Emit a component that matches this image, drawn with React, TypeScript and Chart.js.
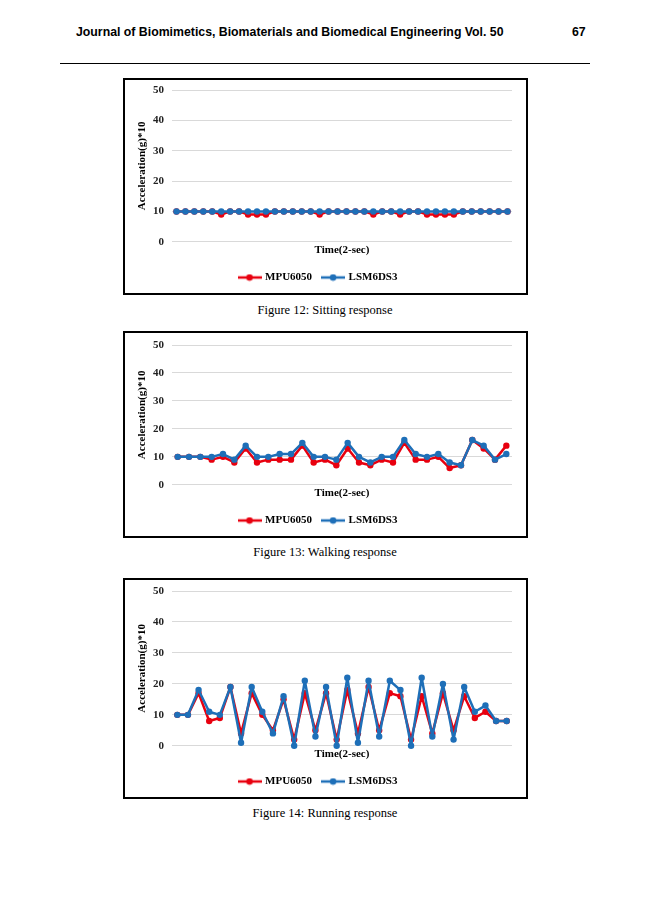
import React, { useEffect, useRef } from 'react';
import { Chart, registerables } from 'chart.js';

Chart.register(...registerables);

// ---- Data ----
const sittingMPU6050 = [10, 10, 10, 10, 10, 9, 10, 10, 9, 9, 9, 10, 10, 10, 10, 10, 9, 10, 10, 10, 10, 10, 9, 10, 10, 9, 10, 10, 9, 9, 9, 9, 10, 10, 10, 10, 10, 10];
const sittingLSM6DS3 = [10, 10, 10, 10, 10, 10, 10, 10, 10, 10, 10, 10, 10, 10, 10, 10, 10, 10, 10, 10, 10, 10, 10, 10, 10, 10, 10, 10, 10, 10, 10, 10, 10, 10, 10, 10, 10, 10];

const walkingMPU6050 = [10, 10, 10, 9, 10, 8, 13, 8, 9, 9, 9, 14, 8, 9, 7, 13, 8, 7, 9, 8, 15, 9, 9, 10, 6, 7, 16, 13, 9, 14];
const walkingLSM6DS3 = [10, 10, 10, 10, 11, 9, 14, 10, 10, 11, 11, 15, 10, 10, 9, 15, 10, 8, 10, 10, 16, 11, 10, 11, 8, 7, 16, 14, 9, 11];

const runningMPU6050 = [10, 10, 17, 8, 9, 19, 4, 17, 10, 5, 15, 2, 17, 5, 17, 2, 18, 4, 19, 5, 17, 16, 2, 16, 4, 17, 5, 16, 9, 11, 8, 8];
const runningLSM6DS3 = [10, 10, 18, 11, 10, 19, 1, 19, 11, 4, 16, 0, 21, 3, 19, 0, 22, 1, 21, 3, 21, 18, 0, 22, 3, 20, 2, 19, 11, 13, 8, 8];

const yTicks = [0, 10, 20, 30, 40, 50];
const seriesNames = ['MPU6050', 'LSM6DS3'];

const RED = '#E8000F';
const BLUE = '#1E6FB8';
const SERIF = '"Liberation Serif", "Times New Roman", serif';

function legendMarker(color: string) {
  const c = document.createElement('canvas');
  c.width = 24;
  c.height = 8;
  const ctx = c.getContext('2d')!;
  ctx.strokeStyle = color;
  ctx.lineWidth = 2.5;
  ctx.beginPath();
  ctx.moveTo(0, 4);
  ctx.lineTo(24, 4);
  ctx.stroke();
  ctx.fillStyle = color;
  ctx.beginPath();
  ctx.arc(12, 4, 3.3, 0, Math.PI * 2);
  ctx.fill();
  return c;
}

type BoxProps = {
  top: number;
  height: number;
  padTop: number;
  mpu: number[];
  lsm: number[];
  caption: string;
  captionTop: number;
};

function LineChartBox({ top, height, padTop, mpu, lsm, caption, captionTop }: BoxProps) {
  const ref = useRef<HTMLCanvasElement>(null);
  useEffect(() => {
    const labels = mpu.map((_, i) => String(i + 1));
    const markers = [legendMarker(RED), legendMarker(BLUE)];
    const common = {
      borderWidth: 2.5,
      pointRadius: 3.2,
      pointBorderWidth: 0,
      tension: 0,
      borderJoinStyle: 'round',
      borderCapStyle: 'round',
      clip: false,
    };
    const chart = new Chart(ref.current!, {
      type: 'line',
      data: {
        labels,
        datasets: [
          {
            ...common,
            label: seriesNames[0],
            data: mpu,
            borderColor: RED,
            backgroundColor: RED,
            pointBackgroundColor: RED,
            order: 1,
          },
          {
            ...common,
            label: seriesNames[1],
            data: lsm,
            borderColor: BLUE,
            backgroundColor: BLUE,
            pointBackgroundColor: BLUE,
            order: 0,
          },
        ],
      },
      options: {
        animation: false,
        responsive: true,
        maintainAspectRatio: false,
        layout: { padding: { top: padTop, right: 14, bottom: 0, left: 0 } },
        plugins: {
          tooltip: { enabled: false },
          legend: {
            position: 'bottom',
            labels: {
              usePointStyle: true,
              pointStyleWidth: 20,
              boxHeight: 8,
              padding: 11,
              color: '#000',
              font: { family: SERIF, size: 11, weight: 'bold' },
              sort: (a: any, b: any) => a.datasetIndex - b.datasetIndex,
              generateLabels: (ch: any) => {
                const base = (Chart.defaults.plugins.legend.labels as any).generateLabels(ch);
                return base.map((it: any) => ({ ...it, pointStyle: markers[it.datasetIndex] }));
              },
            },
          },
        },
        scales: {
          x: {
            offset: true,
            grid: { display: false, drawTicks: false },
            border: { display: false },
            ticks: { display: false },
            title: {
              display: true,
              text: 'Time(2-sec)',
              color: '#000',
              font: { family: SERIF, size: 11, weight: 'bold' },
              padding: { top: 2, bottom: 4 },
            },
          },
          y: {
            min: 0,
            max: 50,
            afterBuildTicks: (s: any) => {
              s.ticks = yTicks.map((v) => ({ value: v }));
            },
            afterFit: (s: any) => {
              s.width = 47;
              s.paddingTop = 0;
              s.paddingBottom = 0;
            },
            grid: { color: '#D9D9D9', lineWidth: 1, drawTicks: false },
            border: { display: false },
            ticks: {
              color: '#222',
              padding: 8,
              font: { family: SERIF, size: 11, weight: 'bold' },
            },
            title: {
              display: true,
              text: 'Acceleration(g)*10',
              color: '#000',
              font: { family: SERIF, size: 11, weight: 'bold' },
              padding: { top: 11, bottom: 0 },
            },
          },
        },
      } as any,
    });
    return () => chart.destroy();
  }, []);
  return (
    <>
      <div
        style={{
          position: 'absolute',
          left: 123,
          top,
          width: 405,
          height,
          border: '2px solid #000',
          boxSizing: 'border-box',
        }}
      >
        <canvas ref={ref} />
      </div>
      <div
        style={{
          position: 'absolute',
          left: 0,
          top: captionTop,
          width: 650,
          textAlign: 'center',
          fontFamily: SERIF,
          fontSize: 12.5,
          lineHeight: '14px',
          color: '#000',
        }}
      >
        {caption}
      </div>
    </>
  );
}

export default function App() {
  return (
    <div style={{ position: 'absolute', left: 0, top: 0, width: 650, height: 920, background: '#fff' }}>
      <div
        style={{
          position: 'absolute',
          left: 76,
          top: 25,
          fontFamily: '"Liberation Sans", Arial, sans-serif',
          fontWeight: 'bold',
          fontSize: 12.3,
          lineHeight: '14px',
          whiteSpace: 'nowrap',
        }}
      >
        Journal of Biomimetics, Biomaterials and Biomedical Engineering Vol. 50
      </div>
      <div
        style={{
          position: 'absolute',
          left: 572,
          top: 25,
          fontFamily: '"Liberation Sans", Arial, sans-serif',
          fontWeight: 'bold',
          fontSize: 12.3,
          lineHeight: '14px',
        }}
      >
        67
      </div>
      <div style={{ position: 'absolute', left: 60, top: 63, width: 530, height: 1, background: '#000' }} />
      <LineChartBox top={78} height={217} padTop={10} mpu={sittingMPU6050} lsm={sittingLSM6DS3} caption="Figure 12: Sitting response" captionTop={303} />
      <LineChartBox top={331} height={207} padTop={12} mpu={walkingMPU6050} lsm={walkingLSM6DS3} caption="Figure 13: Walking response" captionTop={545} />
      <LineChartBox top={578} height={221} padTop={11} mpu={runningMPU6050} lsm={runningLSM6DS3} caption="Figure 14: Running response" captionTop={806} />
    </div>
  );
}
